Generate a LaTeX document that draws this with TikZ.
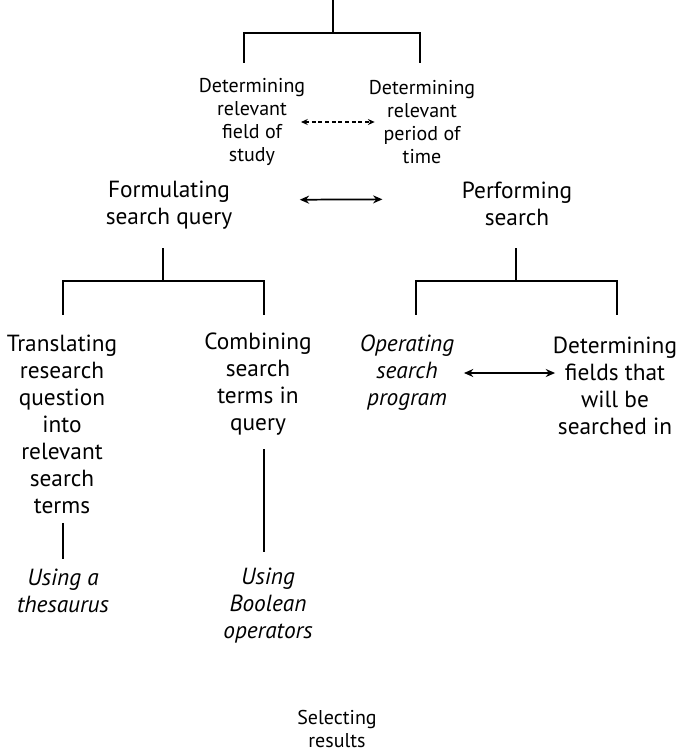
\documentclass[tikz,border=0pt]{standalone}
\usepackage{fontspec}
\setmainfont{PT Sans}
\usetikzlibrary{arrows.meta}

\begin{document}
\begin{tikzpicture}[x=0.75pt,y=-0.75pt,>={Stealth[length=7pt,width=6pt]},line width=1.3pt,
  main node/.style={align=center,inner sep=0pt,font=\fontsize{17.5}{20.25}\selectfont},
  small node/.style={align=center,inner sep=0pt,font=\fontsize{15}{17.25}\selectfont},
  side node/.style={align=center,inner sep=0pt,font=\fontsize{17.5}{20.25}\selectfont\itshape}]

                \useasboundingbox (0,0) rectangle (679,753);

                \coordinate (0) at (333,0);
                \node[small node] (1) at (252,122) {Determining\\relevant\\field of\\study};
                \node[small node] (2) at (422,122) {Determining\\relevant\\period of\\time};
                \node[main node] (3) at (169,205) {Formulating\\search query};
                \node[main node] (4) at (517,204) {Performing\\search};
                \node[main node] (5) at (62,424) {Translating\\research\\question\\into\\relevant\\search\\terms};
                \node[main node] (6) at (258,384) {Combining\\search\\terms in\\query};
                \node[side node] (7) at (407,373) {Operating\\search\\program};
                \node[main node] (8) at (615,386) {Determining\\fields that\\will be\\searched in};
                \node[side node] (9) at (63,591) {Using a\\thesaurus};
                \node[side node] (10) at (268,606) {Using\\Boolean\\operators};
                \node[small node] (11) at (337,729) {Selecting\\results};

                \coordinate (1t) at (244,63);
                \coordinate (2t) at (420,63);
                \coordinate (3b) at (163,248);
                \coordinate (5t) at (63,315);
                \coordinate (6t) at (264,315);
                \coordinate (4b) at (516,248);
                \coordinate (7t) at (416,315);
                \coordinate (8t) at (617,315);

                \draw[-] (0) -- ++(0,33) coordinate (j0) -| (1t);
                \draw[-] (j0) -| (2t);
                \draw[-] (3b) -- ++(0,33) coordinate (j3) -| (5t);
                \draw[-] (j3) -| (6t);
                \draw[-] (4b) -- ++(0,33) coordinate (j4) -| (7t);
                \draw[-] (j4) -| (8t);

                \draw[-, shorten <=6.5pt, shorten >=7pt] ([xshift=0.75pt]5.south) -- ([xshift=0.75pt]5.south |- 9.north);
                \draw[-, shorten <=10pt, shorten >=12pt] ([xshift=4.5pt]6.south) -- ([xshift=4.5pt]6.south |- 10.north);

                \draw[<->, densely dashed, line width=0.9pt, >={Stealth[length=5pt,width=4.5pt]}, shorten <=-3.75pt, shorten >=-5pt] (1) -- (2);
                \draw[<->, shorten <=50pt, shorten >=59pt] ([yshift=3.75pt]3.east) -- ([yshift=3.75pt]4.west);
                \draw[<->, shorten <=6.75pt, shorten >=-2.25pt] (7.east) -- (7.east -| 8.west);

                ;
            \end{tikzpicture}
\end{document}
